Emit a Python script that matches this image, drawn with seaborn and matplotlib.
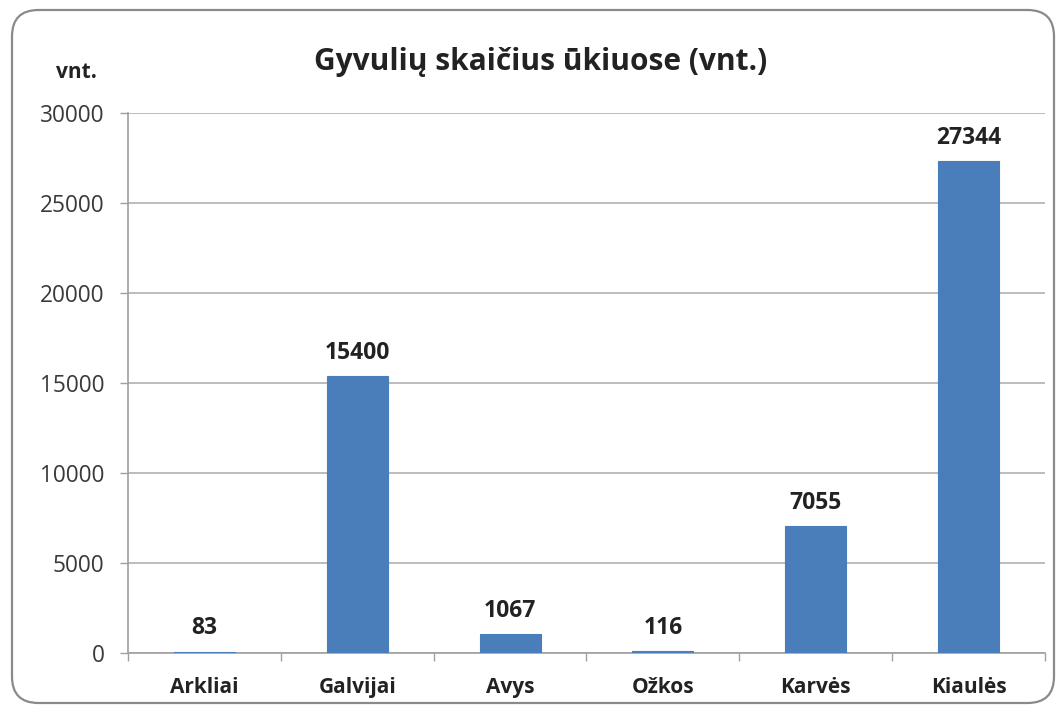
import matplotlib
matplotlib.use("Agg")
import matplotlib.pyplot as plt
from matplotlib.patches import FancyBboxPatch
import seaborn as sns
import pandas as pd

categories = ["Arkliai", "Galvijai", "Avys", "Ožkos", "Karvės", "Kiaulės"]
values = [83, 15400, 1067, 116, 7055, 27344]
y_ticks = [0, 5000, 10000, 15000, 20000, 25000, 30000]

sns.set_theme(style="white")
plt.rcParams["font.family"] = ["Open Sans", "DejaVu Sans"]

df = pd.DataFrame({"gyvuliai": categories, "vnt": values})

fig = plt.figure(figsize=(10.59, 7.13), dpi=100)
fig.patch.set_facecolor("white")

# rounded frame around the whole chart, kept behind the axes
frame = FancyBboxPatch((12 / 1059, 10 / 713), 1042 / 1059, 693 / 713,
                       boxstyle="round,pad=0,rounding_size=0.025",
                       transform=fig.transFigure, facecolor="none",
                       edgecolor="#8a8a8a", linewidth=1.6,
                       mutation_aspect=1059 / 713, zorder=-5)
fig.patches.append(frame)

ax = fig.add_axes([128 / 1059, 60 / 713, 917 / 1059, 540 / 713])
ax.set_facecolor("none")

sns.barplot(data=df, x="gyvuliai", y="vnt", order=categories,
            color="#4a7ebb", width=0.4, saturation=1, ax=ax, zorder=3,
            edgecolor="#4a7ebb", linewidth=0.8)

ax.set_ylim(0, 30000)
ax.set_xlim(-0.5, len(categories) - 0.5)
ax.set_yticks(y_ticks)
ax.set_yticklabels([str(t) for t in y_ticks], fontsize=16.3, color="#3a3a3a")
ax.yaxis.grid(True, color="#b0b0b0", linewidth=1.2, zorder=0)
ax.set_axisbelow(True)

ax.set_xticks(range(len(categories)))
ax.set_xticklabels(categories, fontsize=15, fontweight="bold", color="#222222")
ax.tick_params(axis="x", length=0, pad=17)
ax.tick_params(axis="y", length=6, width=1, color="#a0a0a0", left=True, pad=11)

# category separators on the x axis
ax.set_xticks([i + 0.5 for i in range(-1, len(categories))], minor=True)
ax.tick_params(axis="x", which="minor", length=6, width=1, color="#a0a0a0", bottom=True)

for side in ["top", "right"]:
    ax.spines[side].set_visible(False)
for side in ["left", "bottom"]:
    ax.spines[side].set_color("#a0a0a0")
    ax.spines[side].set_linewidth(1.2)

ax.set_xlabel("")
ax.set_ylabel("")

for container in ax.containers:
    ax.bar_label(container, labels=[str(v) for v in values], padding=8,
                 fontsize=16.5, fontweight="bold", color="#222222")

fig.text(541 / 1059, 1 - 62 / 713, "Gyvulių skaičius ūkiuose (vnt.)",
         ha="center", va="center", fontsize=21.5, fontweight="bold", color="#222222")
fig.text(76 / 1059, 1 - 72 / 713, "vnt.", ha="center", va="center",
         fontsize=15, fontweight="bold", color="#222222")

fig.savefig("out.png", dpi=100, facecolor="white")
